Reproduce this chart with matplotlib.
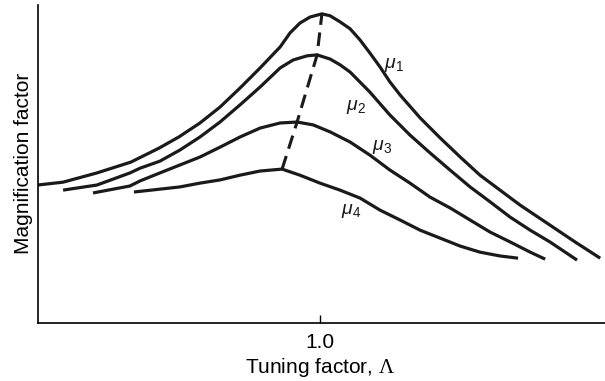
import matplotlib
matplotlib.use('Agg')
import matplotlib.pyplot as plt

plt.rcParams['font.family'] = ['Liberation Sans', 'DejaVu Sans']
plt.rcParams['mathtext.fontset'] = 'custom'
plt.rcParams['mathtext.rm'] = 'Liberation Serif'
plt.rcParams['mathtext.it'] = 'Liberation Sans:italic'
plt.rcParams['mathtext.sf'] = 'Liberation Sans'

# values (tuning factor, magnification in arbitrary units)
mu1_x = [0.00, 0.09, 0.21, 0.33, 0.43, 0.50, 0.575, 0.646, 0.717, 0.788, 0.859, 0.894, 0.929, 0.965, 1.007,
         1.036, 1.071, 1.107, 1.142, 1.177, 1.213, 1.248, 1.284, 1.355, 1.426, 1.497, 1.567, 1.638, 1.709, 1.815, 1.904, 1.993]
mu1_y = [4.34, 4.43, 4.72, 5.06, 5.50, 5.85, 6.29, 6.79, 7.39, 8.02, 8.68, 9.12, 9.43, 9.62, 9.72,
         9.66, 9.47, 9.25, 8.90, 8.49, 8.05, 7.58, 7.17, 6.45, 5.82, 5.22, 4.65, 4.18, 3.71, 3.08, 2.55, 2.04]

mu2_x = [0.09, 0.21, 0.327, 0.363, 0.433, 0.504, 0.575, 0.646, 0.717, 0.788, 0.859, 0.905, 0.954, 0.990,
         1.036, 1.071, 1.107, 1.177, 1.248, 1.319, 1.390, 1.461, 1.532, 1.603, 1.674, 1.745, 1.815, 1.911]
mu2_y = [4.18, 4.34, 4.72, 4.87, 5.09, 5.44, 5.85, 6.32, 6.86, 7.42, 8.02, 8.27, 8.40, 8.43,
         8.30, 8.12, 7.89, 7.26, 6.54, 5.91, 5.35, 4.81, 4.28, 3.81, 3.33, 2.92, 2.55, 1.98]

mu3_x = [0.196, 0.327, 0.363, 0.433, 0.504, 0.575, 0.646, 0.717, 0.788, 0.859, 0.919, 0.976,
         1.036, 1.107, 1.177, 1.248, 1.319, 1.390, 1.461, 1.532, 1.603, 1.674, 1.745, 1.798]
mu3_y = [4.09, 4.31, 4.47, 4.72, 4.97, 5.22, 5.53, 5.85, 6.13, 6.29, 6.32, 6.23,
         6.01, 5.69, 5.28, 4.81, 4.40, 3.96, 3.62, 3.24, 2.86, 2.55, 2.23, 2.01]

mu4_x = [0.341, 0.433, 0.504, 0.575, 0.646, 0.717, 0.788, 0.866, 0.929, 1.000,
         1.071, 1.142, 1.213, 1.284, 1.355, 1.426, 1.497, 1.567, 1.638, 1.702]
mu4_y = [4.12, 4.21, 4.28, 4.40, 4.50, 4.65, 4.78, 4.84, 4.65, 4.40,
         4.18, 3.93, 3.55, 3.24, 2.92, 2.67, 2.42, 2.23, 2.11, 2.04]

# locus of the peaks (dashed)
peak_x = [0.866, 0.919, 0.990, 1.007]
peak_y = [4.84, 6.32, 8.43, 9.72]

labels = [r'$\mu_\mathsf{1}$', r'$\mu_\mathsf{2}$', r'$\mu_\mathsf{3}$', r'$\mu_\mathsf{4}$']
label_x = [1.263, 1.128, 1.220, 1.111]
label_y = [8.11, 6.79, 5.53, 3.52]

fig = plt.figure(figsize=(6.05, 3.81), dpi=100)
ax = fig.add_axes([0.0623, 0.152, 0.9377, 0.835])

for xs, ys in [(mu1_x, mu1_y), (mu2_x, mu2_y), (mu3_x, mu3_y), (mu4_x, mu4_y)]:
    ax.plot(xs, ys, color='#1a1a1a', lw=2.3, solid_capstyle='butt', solid_joinstyle='round')

ax.plot(peak_x, peak_y, color='#1a1a1a', lw=2.2, dashes=(4.5, 2.5))

for t, x, y in zip(labels, label_x, label_y):
    ax.text(x, y, t, fontsize=14, ha='center', va='center', color='#1a1a1a')

ax.set_xlim(0, 2.01)
ax.set_ylim(0, 10)
ax.spines['top'].set_visible(False)
ax.spines['right'].set_visible(False)
ax.spines['left'].set_linewidth(1.2)
ax.spines['bottom'].set_linewidth(1.2)
ax.set_xticks([1.0])
ax.set_xticklabels(['1.0'])
ax.set_yticks([])
ax.tick_params(axis='x', direction='in', length=6, width=1, pad=7, labelsize=15)

ax.set_xlabel('Tuning factor, $\\Lambda$', fontsize=15)
ax.xaxis.set_label_coords(0.4976, -0.104)
ax.xaxis.label.set_va('top')
ax.set_ylabel('Magnification factor', fontsize=15)
ax.yaxis.set_label_coords(-0.008, 0.503)

fig.savefig('out.png', dpi=100)
